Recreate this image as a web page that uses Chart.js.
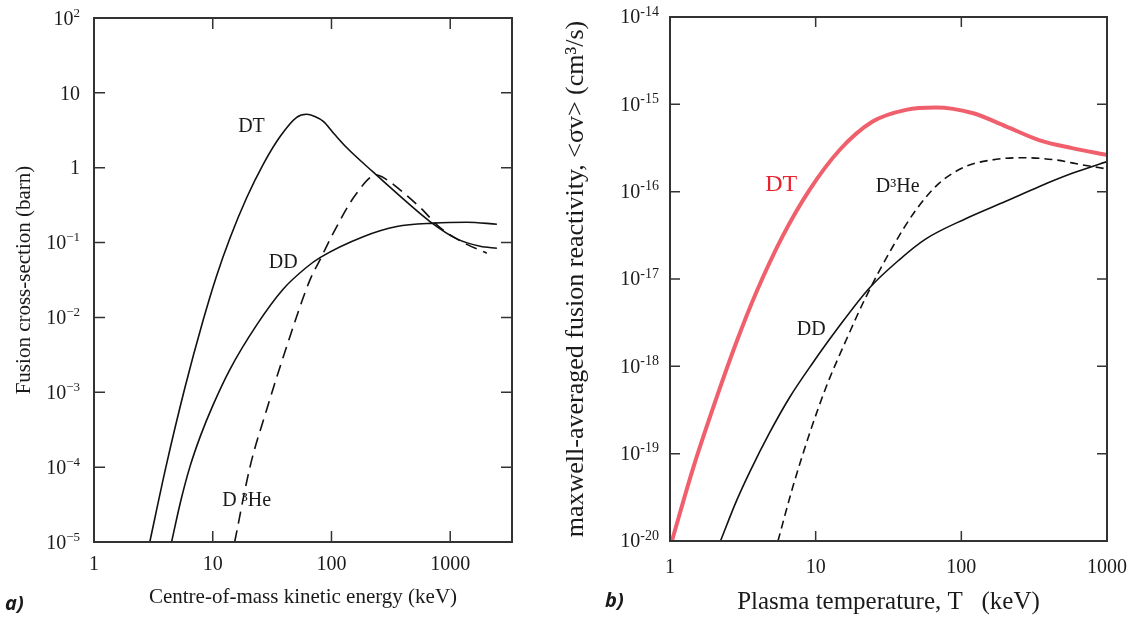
<!DOCTYPE html>
<html>
<head>
<meta charset="utf-8">
<script src="https://cdn.jsdelivr.net/npm/chart.js"></script>
<style>
  html, body { margin: 0; padding: 0; background: #fff; }
  #wrap { position: relative; width: 1142px; height: 619px; overflow: hidden; }
  canvas { position: absolute; top: 0; }
  #chartA { left: 0; }
  #chartB { left: 560px; }
  .tag { position: absolute; font-family: 'Open Sans', sans-serif; font-weight: 700; font-style: italic; font-size: 20px; color: #1a1a1a; }
</style>
</head>
<body>
<div id="wrap">
  <canvas id="chartA" width="560" height="619"></canvas>
  <canvas id="chartB" width="582" height="619"></canvas>
  <div class="tag" style="left:5px; top:589px">a)</div>
  <div class="tag" style="left:605px; top:586px">b)</div>
</div>
<script>
// a) fusion cross-sections: centre-of-mass energy (keV) vs sigma (barn)
const csEnergyDT = [2.95, 4.03, 5.82, 8.32, 10.7, 14.0, 19.3, 26.6, 36.8, 50.9, 61.7, 72.4, 85.3, 107, 134, 225, 378, 676, 1138, 1786, 2472];
const csDT = [1e-5, 1e-4, 1.14e-3, 9.3e-3, 0.0348, 0.116, 0.397, 1.11, 2.59, 4.71, 5.18, 4.84, 4.17, 2.75, 1.86, 0.871, 0.417, 0.191, 0.112, 0.0891, 0.0841];

const csEnergyDD = [4.5, 5.37, 6.41, 7.94, 10.07, 13.9, 23.4, 39.3, 61.7, 80.0, 185, 355, 721, 1380, 2472];
const csDD = [1e-5, 3.5e-5, 1e-4, 2.7e-4, 6.8e-4, 2.0e-3, 7.9e-3, 0.024, 0.0468, 0.063, 0.120, 0.164, 0.182, 0.187, 0.176];

const csEnergyDHe3 = [15.3, 20.6, 28.4, 41.9, 65.9, 80.0, 103.5, 163, 240, 293, 378, 557, 822, 1291, 2032];
const csDHe3 = [1e-5, 1.01e-4, 5.8e-4, 4.07e-3, 0.0317, 0.0587, 0.134, 0.457, 0.80, 0.69, 0.507, 0.295, 0.158, 0.10, 0.072];

const csXTicks = [1, 10, 100, 1000];
const csXLabels = ['1', '10', '100', '1000'];
const csYTicks = [1e-5, 1e-4, 1e-3, 1e-2, 1e-1, 1, 10, 100];
const csYLabels = [['10', '\u22125'], ['10', '\u22124'], ['10', '\u22123'], ['10', '\u22122'], ['10', '\u22121'], ['1', ''], ['10', ''], ['10', '2']];

// b) maxwell-averaged reactivity: temperature (keV) vs <sigma v> (cm3/s)
const rtTempDT = [1.03, 1.44, 2.09, 2.86, 3.92, 5.97, 9.08, 14.6, 24.6, 41.7, 66.9, 119, 202, 341, 577, 1000];
const rtDT = [1e-20, 6.8e-20, 4.4e-19, 1.9e-18, 7.1e-18, 3.16e-17, 1.05e-16, 3.0e-16, 6.35e-16, 8.65e-16, 9.2e-16, 7.95e-16, 5.6e-16, 3.9e-16, 3.15e-16, 2.64e-16];

const rtTempDD = [2.22, 2.86, 3.53, 4.83, 6.62, 9.57, 13.8, 23.4, 37.5, 57.1, 107, 202, 341, 577, 1000];
const rtDD = [1e-20, 2.88e-20, 6.2e-20, 1.74e-19, 4.4e-19, 1.10e-18, 2.57e-18, 7.9e-18, 1.66e-17, 2.88e-17, 4.9e-17, 7.76e-17, 1.14e-16, 1.62e-16, 2.21e-16];

const rtTempDHe3 = [5.51, 6.98, 9.08, 11.8, 16.2, 22.2, 33.8, 48.9, 70.5, 107, 163, 262, 444, 675, 1000];
const rtDHe3 = [1e-20, 4.2e-20, 1.7e-19, 5.8e-19, 2.0e-18, 6.3e-18, 2.34e-17, 6.2e-17, 1.25e-16, 1.94e-16, 2.31e-16, 2.45e-16, 2.31e-16, 2.03e-16, 1.82e-16];

const rtXTicks = [1, 10, 100, 1000];
const rtXLabels = ['1', '10', '100', '1000'];
const rtYTicks = [1e-20, 1e-19, 1e-18, 1e-17, 1e-16, 1e-15, 1e-14];
const rtYLabels = [['10', '-20'], ['10', '-19'], ['10', '-18'], ['10', '-17'], ['10', '-16'], ['10', '-15'], ['10', '-14']];

const serif = "'Liberation Serif', 'Times New Roman', serif";
const ink = '#1a1a1a';

function curve(xs, ys, color, width, dash) {
  return {
    data: xs.map((x, i) => ({ x: x, y: ys[i] })),
    showLine: true,
    borderColor: color,
    borderWidth: width,
    borderDash: dash,
    pointRadius: 0,
    cubicInterpolationMode: 'monotone',
    fill: false
  };
}

// frame with inward ticks, superscript tick labels and curve names
const framePlugin = {
  id: 'frame',
  afterDatasetsDraw(chart, args, o) {
    const ctx = chart.ctx;
    const a = chart.chartArea;
    const xs = chart.scales.x, ys = chart.scales.y;
    ctx.save();
    ctx.strokeStyle = '#333';
    ctx.lineWidth = 1.5;
    ctx.beginPath();
    o.xTicks.forEach(v => {
      const p = xs.getPixelForValue(v);
      if (p < a.left + 2 || p > a.right - 2) return;
      ctx.moveTo(p, a.bottom); ctx.lineTo(p, a.bottom - o.tick);
      ctx.moveTo(p, a.top); ctx.lineTo(p, a.top + o.tick);
    });
    o.yTicks.forEach(v => {
      const p = ys.getPixelForValue(v);
      if (p < a.top + 2 || p > a.bottom - 2) return;
      ctx.moveTo(a.left, p); ctx.lineTo(a.left + o.tick, p);
      ctx.moveTo(a.right, p); ctx.lineTo(a.right - o.tick, p);
    });
    ctx.stroke();
    ctx.lineWidth = 2;
    ctx.strokeRect(a.left, a.top, a.width, a.height);

    ctx.fillStyle = ink;
    ctx.textBaseline = 'middle';
    const right = a.left - o.labelGap;
    o.yLabels.forEach((lab, i) => {
      const p = ys.getPixelForValue(o.yTicks[i]) + o.baseShift;
      ctx.font = o.supFont;
      const ew = lab[1] ? ctx.measureText(lab[1]).width : 0;
      if (lab[1]) {
        ctx.textAlign = 'left';
        ctx.fillText(lab[1], right - ew, p - o.supRise);
      }
      ctx.font = o.font;
      ctx.textAlign = 'right';
      ctx.fillText(lab[0], right - ew, p);
    });

    o.names.forEach(n => {
      ctx.font = n.font;
      ctx.fillStyle = n.color;
      ctx.textAlign = 'center';
      ctx.fillText(n.text, xs.getPixelForValue(n.x), ys.getPixelForValue(n.y));
    });
    ctx.restore();
  }
};

function logAxis(min, max, ticks, extra) {
  return Object.assign({
    type: 'logarithmic',
    min: min,
    max: max,
    grid: { display: false, drawTicks: false },
    border: { display: false },
    afterBuildTicks: s => { s.ticks = ticks.map(v => ({ value: v })); s.min = min; s.max = max; }
  }, extra);
}

new Chart(document.getElementById('chartA'), {
  type: 'scatter',
  data: {
    datasets: [
      curve(csEnergyDT, csDT, '#111', 1.6, []),
      curve(csEnergyDD, csDD, '#111', 1.6, []),
      curve(csEnergyDHe3, csDHe3, '#111', 1.6, [12, 7])
    ]
  },
  options: {
    responsive: false,
    animation: false,
    layout: { padding: { left: 0, top: 18, right: 48, bottom: 0 } },
    plugins: {
      legend: { display: false },
      tooltip: { enabled: false },
      frame: {
        xTicks: csXTicks, yTicks: csYTicks, yLabels: csYLabels,
        tick: 11, labelGap: 14, baseShift: 1.5, supRise: 6,
        font: '20px ' + serif, supFont: '13px ' + serif,
        names: [
          { text: 'DT', x: 21.2, y: 3.56, font: '20px ' + serif, color: ink },
          { text: 'DD', x: 39.2, y: 0.053, font: '20px ' + serif, color: ink },
          { text: 'D \u00b3He', x: 19.3, y: 3.6e-5, font: '20px ' + serif, color: ink }
        ]
      }
    },
    scales: {
      x: logAxis(1, 3313, csXTicks, {
        position: 'bottom',
        afterFit: s => { s.height = 77; },
        ticks: {
          autoSkip: false, maxRotation: 0, padding: 11, color: ink,
          font: { family: serif, size: 20 },
          callback: (v, i) => csXLabels[i]
        },
        title: {
          display: true, text: 'Centre-of-mass kinetic energy (keV)', color: ink,
          font: { family: serif, size: 21 }, padding: { top: 0, bottom: 9 }
        }
      }),
      y: logAxis(1e-5, 100, csYTicks, {
        position: 'left',
        afterFit: s => { s.width = 94; },
        ticks: { display: false },
        title: {
          display: true, text: 'Fusion cross-section (barn)', color: ink,
          font: { family: serif, size: 21 }, padding: { top: 12, bottom: 0 }
        }
      })
    }
  },
  plugins: [framePlugin]
});

new Chart(document.getElementById('chartB'), {
  type: 'scatter',
  data: {
    datasets: [
      curve(rtTempDT, rtDT, '#f0606c', 4, []),
      curve(rtTempDD, rtDD, '#111', 1.6, []),
      curve(rtTempDHe3, rtDHe3, '#111', 1.6, [8, 5])
    ]
  },
  options: {
    responsive: false,
    animation: false,
    layout: { padding: { left: 0, top: 17, right: 34, bottom: 0 } },
    plugins: {
      legend: { display: false },
      tooltip: { enabled: false },
      frame: {
        xTicks: rtXTicks, yTicks: rtYTicks, yLabels: rtYLabels,
        tick: 10, labelGap: 11, baseShift: 1, supRise: 6,
        font: '20px ' + serif, supFont: '14px ' + serif,
        names: [
          { text: 'DT', x: 5.8, y: 1.2e-16, font: '24px ' + serif, color: '#e8232f' },
          { text: 'D\u00b3He', x: 36.6, y: 1.14e-16, font: '20px ' + serif, color: ink },
          { text: 'DD', x: 9.33, y: 2.6e-18, font: '20px ' + serif, color: ink }
        ]
      }
    },
    scales: {
      x: logAxis(1, 1000, rtXTicks, {
        position: 'bottom',
        afterFit: s => { s.height = 78; },
        ticks: {
          autoSkip: false, maxRotation: 0, padding: 15, color: ink,
          font: { family: serif, size: 20 },
          callback: (v, i) => rtXLabels[i]
        },
        title: {
          display: true, text: 'Plasma temperature, T   (keV)', color: ink,
          font: { family: serif, size: 25 }, padding: { top: 0, bottom: 2 }
        }
      }),
      y: logAxis(1e-20, 1e-14, rtYTicks, {
        position: 'left',
        afterFit: s => { s.width = 110; },
        ticks: { display: false },
        title: {
          display: true, text: 'maxwell-averaged fusion reactivity, <\u03c3v> (cm\u00b3/s)', color: ink,
          font: { family: serif, size: 26 }, padding: { top: 1, bottom: 0 }
        }
      })
    }
  },
  plugins: [framePlugin]
});
</script>
</body>
</html>
